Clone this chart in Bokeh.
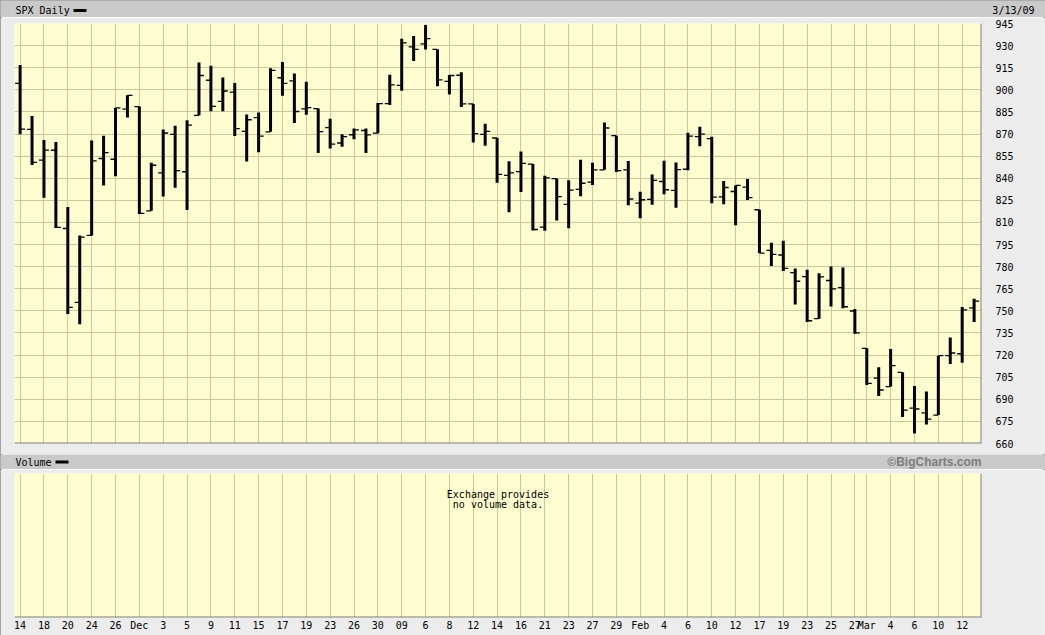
from bokeh.plotting import figure
from bokeh.models import (Range1d, FixedTicker, Label, BoxAnnotation, Span,
                          ColumnDataSource)
from bokeh.layouts import column
from bokeh.embed import file_html
from bokeh.resources import INLINE

# ---------------- data (SPX daily) ----------------
dates = [
    "2008-11-14", "2008-11-17", "2008-11-18", "2008-11-19", "2008-11-20", "2008-11-21",
    "2008-11-24", "2008-11-25", "2008-11-26", "2008-11-28",
    "2008-12-01", "2008-12-02", "2008-12-03", "2008-12-04", "2008-12-05",
    "2008-12-08", "2008-12-09", "2008-12-10", "2008-12-11", "2008-12-12",
    "2008-12-15", "2008-12-16", "2008-12-17", "2008-12-18", "2008-12-19",
    "2008-12-22", "2008-12-23", "2008-12-24", "2008-12-26",
    "2008-12-29", "2008-12-30", "2008-12-31",
    "2009-01-02", "2009-01-05", "2009-01-06", "2009-01-07", "2009-01-08", "2009-01-09",
    "2009-01-12", "2009-01-13", "2009-01-14", "2009-01-15", "2009-01-16",
    "2009-01-20", "2009-01-21", "2009-01-22", "2009-01-23",
    "2009-01-26", "2009-01-27", "2009-01-28", "2009-01-29", "2009-01-30",
    "2009-02-02", "2009-02-03", "2009-02-04", "2009-02-05", "2009-02-06",
    "2009-02-09", "2009-02-10", "2009-02-11", "2009-02-12", "2009-02-13",
    "2009-02-17", "2009-02-18", "2009-02-19", "2009-02-20",
    "2009-02-23", "2009-02-24", "2009-02-25", "2009-02-26", "2009-02-27",
    "2009-03-02", "2009-03-03", "2009-03-04", "2009-03-05", "2009-03-06",
    "2009-03-09", "2009-03-10", "2009-03-11", "2009-03-12", "2009-03-13",
]
opens = [
    904.4, 873.2, 852.3, 859.0, 805.9, 755.8, 801.2, 853.4, 852.9, 886.9,
    888.6, 817.9, 843.6, 869.8, 844.4, 882.7, 906.5, 892.2, 898.4, 871.8,
    881.1, 871.5, 908.2, 906.0, 887.0, 887.2, 874.3, 863.9, 869.5, 872.4, 870.6, 890.6,
    903.0, 929.2, 931.2, 927.5, 905.7, 909.9, 890.4, 869.8, 867.3, 842.0, 844.5,
    849.6, 806.8, 839.7, 822.2, 832.5, 837.3, 845.7, 868.9, 845.7,
    823.1, 825.7, 837.8, 831.8, 846.1, 868.2, 866.9, 827.4, 831.0, 834.0,
    818.6, 791.1, 787.9, 775.9, 773.3, 744.7, 770.6, 765.8, 749.9,
    724.6, 704.4, 698.6, 708.3, 684.0, 680.8, 679.3, 719.6, 720.9, 752.0,
]
highs = [
    916.9, 882.3, 865.9, 864.6, 820.5, 801.2, 865.6, 868.9, 887.7, 896.3,
    888.6, 850.5, 873.1, 875.6, 879.4, 918.6, 916.3, 908.3, 904.6, 883.2,
    884.6, 914.7, 918.9, 911.0, 905.5, 887.4, 880.4, 869.8, 873.7, 873.7, 891.1, 910.3,
    934.7, 936.6, 943.9, 927.5, 910.0, 911.9, 890.4, 877.0, 867.3, 851.6, 858.1,
    849.6, 841.7, 839.7, 838.6, 852.5, 850.5, 877.9, 868.9, 851.7,
    830.8, 842.6, 851.9, 850.6, 870.8, 875.0, 868.1, 838.2, 835.1, 839.4,
    818.6, 796.2, 797.6, 778.7, 777.9, 775.5, 780.1, 779.4, 751.3,
    724.6, 711.7, 724.1, 708.3, 699.1, 695.3, 719.6, 731.9, 752.6, 758.3,
]
lows = [
    869.9, 849.0, 826.8, 806.2, 747.8, 741.0, 801.2, 835.0, 841.4, 881.2,
    815.7, 817.9, 827.6, 833.6, 818.4, 882.7, 885.4, 885.5, 868.7, 851.4,
    857.7, 871.5, 895.9, 877.4, 883.0, 857.1, 860.1, 861.4, 866.5, 857.1, 870.6, 889.7,
    899.4, 919.5, 927.3, 902.4, 896.8, 888.3, 864.3, 862.0, 836.9, 817.0, 830.7,
    804.5, 804.3, 811.3, 806.1, 827.7, 835.4, 845.7, 844.2, 821.7,
    812.9, 822.0, 829.2, 819.9, 845.4, 861.7, 823.0, 822.3, 808.1, 825.2,
    789.2, 780.4, 777.0, 754.3, 742.4, 744.7, 752.9, 751.8, 734.5,
    699.7, 692.3, 698.6, 677.9, 666.8, 672.9, 679.3, 713.9, 714.8, 742.5,
]
closes = [
    873.3, 850.8, 859.1, 806.6, 752.4, 800.0, 851.8, 857.4, 887.7, 896.2,
    816.2, 848.8, 870.7, 845.2, 876.1, 909.7, 888.7, 899.2, 873.6, 879.7,
    868.6, 913.2, 904.4, 885.3, 887.9, 871.6, 863.2, 868.2, 872.8, 869.4, 890.6, 903.3,
    931.8, 927.5, 934.7, 906.7, 909.7, 890.4, 870.3, 871.8, 842.6, 843.7, 850.1,
    805.2, 840.2, 827.5, 832.0, 836.6, 845.7, 874.1, 845.1, 825.9,
    825.4, 838.5, 832.2, 845.9, 868.6, 869.9, 827.2, 833.7, 835.2, 826.8,
    789.2, 788.4, 778.9, 770.1, 743.3, 773.1, 764.9, 752.8, 735.1,
    700.8, 696.3, 712.9, 682.6, 683.4, 676.5, 719.6, 721.4, 750.7, 756.6,
]

# x-axis labels (date -> text)
tick_dates = [
    "2008-11-14", "2008-11-18", "2008-11-20", "2008-11-24", "2008-11-26",
    "2008-12-01", "2008-12-03", "2008-12-05", "2008-12-09", "2008-12-11",
    "2008-12-15", "2008-12-17", "2008-12-19", "2008-12-23", "2008-12-26",
    "2008-12-30", "2009-01-02", "2009-01-06", "2009-01-08", "2009-01-12",
    "2009-01-14", "2009-01-16", "2009-01-21", "2009-01-23", "2009-01-27",
    "2009-01-29", "2009-02-02", "2009-02-04", "2009-02-06", "2009-02-10",
    "2009-02-12", "2009-02-17", "2009-02-19", "2009-02-23", "2009-02-25",
    "2009-02-27", "2009-03-02", "2009-03-04", "2009-03-06", "2009-03-10",
    "2009-03-12",
]
tick_texts = [
    "14", "18", "20", "24", "26", "Dec", "3", "5", "9", "11",
    "15", "17", "19", "23", "26", "30", "09", "6", "8", "12",
    "14", "16", "21", "23", "27", "29", "Feb", "4", "6", "10",
    "12", "17", "19", "23", "25", "27", "Mar", "4", "6", "10",
    "12",
]
price_ticks = [660, 675, 690, 705, 720, 735, 750, 765, 780, 795, 810, 825,
               840, 855, 870, 885, 900, 915, 930, 945]

title_text = "SPX Daily"
date_text = "3/13/09"
volume_title = "Volume"
credit_text = "\u00a9BigCharts.com"
no_volume_lines = ["Exchange provides", "no volume data."]

# ---------------- styling ----------------
W = 1045
FL, FR = 14, 981          # frame left/right edge in page pixels
BG = "#ececec"
BAND = "#c9c9c9"
FRAME = "#fdfdd0"
GRID = "#c9c99b"
EDGE = "#7c7c7c"
MONO = "DejaVu Sans Mono"

idx = list(range(len(dates)))
tick_idx = [dates.index(d) for d in tick_dates]
overrides = {i: t for i, t in zip(tick_idx, tick_texts)}

src = ColumnDataSource(dict(
    x=idx,
    xl=[i - 0.42 for i in idx],
    xr=[i + 0.42 for i in idx],
    open=opens, high=highs, low=lows, close=closes,
))

xr = Range1d(-0.47, 80.62)
yr = Range1d(price_ticks[0], price_ticks[-1])


def band(height, mid, left_text, swatch_left, right_text, right_x, right_font,
         right_style, right_color, right_size):
    # header strip whose frame covers the whole strip (x range in page pixels)
    h = figure(width=W, height=height, x_range=Range1d(0, W), y_range=Range1d(0, height),
               x_axis_location=None, y_axis_location=None, toolbar_location=None,
               output_backend="svg", title=None, min_border=0,
               background_fill_color=BAND, border_fill_color=BAND)
    if "frame_align" in h.properties():
        h.frame_align = False
    h.outline_line_color = None
    h.grid.visible = False
    h.add_layout(Label(x=15, y=mid, text=left_text, text_align="left",
                       text_baseline="middle", text_font=MONO, text_font_size="10px",
                       text_color="black"))
    h.add_layout(BoxAnnotation(left=swatch_left, right=swatch_left + 13,
                               bottom=mid - 1.5, top=mid + 1.5,
                               fill_color="black", fill_alpha=1.0, line_color=None))
    h.add_layout(Label(x=right_x, y=mid, text=right_text, text_align="right",
                       text_baseline="middle", text_font=right_font,
                       text_font_style=right_style, text_font_size=right_size,
                       text_color=right_color))
    return h


head1 = band(17, 7, title_text, 73, date_text, 1034, MONO, "normal", "black", "10px")

# ---------------- price panel ----------------
p = figure(width=W, height=437, x_range=xr, y_range=yr,
           x_axis_location=None, y_axis_location="right",
           toolbar_location=None, output_backend="svg", title=None,
           min_border_left=FL, min_border_right=W - FR, min_border_top=6,
           min_border_bottom=11,
           background_fill_color=FRAME, border_fill_color=BG)
p.outline_line_color = None
p.yaxis.ticker = FixedTicker(ticks=price_ticks)
p.yaxis.major_tick_out = 0
p.yaxis.major_tick_in = 0
p.yaxis.minor_tick_out = 0
p.yaxis.minor_tick_in = 0
p.yaxis.axis_line_color = None
p.yaxis.major_label_standoff = 14
p.yaxis.major_label_text_font = MONO
p.yaxis.major_label_text_font_size = "10px"
p.yaxis.major_label_text_color = "black"
p.xgrid.ticker = FixedTicker(ticks=tick_idx)
p.ygrid.ticker = FixedTicker(ticks=price_ticks)
p.grid.grid_line_color = GRID
p.grid.grid_line_width = 1

p.segment(x0="x", y0="low", x1="x", y1="high", source=src,
          line_color="black", line_width=3)
p.segment(x0="xl", y0="open", x1="x", y1="open", source=src,
          line_color="black", line_width=1.3)
p.segment(x0="x", y0="close", x1="xr", y1="close", source=src,
          line_color="black", line_width=1.3)

p.add_layout(Span(location=yr.start, dimension="width", line_color=EDGE, line_width=2))
p.add_layout(Span(location=xr.end, dimension="height", line_color=EDGE, line_width=2))

head2 = band(15, 7.5, volume_title, 55, credit_text, 981, "Liberation Sans", "bold",
             "#7d7d7d", "12px")

# ---------------- volume panel ----------------
v = figure(width=W, height=166, x_range=xr, y_range=Range1d(0, 1),
           y_axis_location=None, x_axis_location="below",
           toolbar_location=None, output_backend="svg", title=None,
           min_border_left=FL, min_border_right=W - FR, min_border_top=4,
           min_border_bottom=18,
           background_fill_color=FRAME, border_fill_color=BG)
v.outline_line_color = None
v.xaxis.ticker = FixedTicker(ticks=tick_idx)
v.xaxis.major_label_overrides = overrides
v.xaxis.major_tick_out = 0
v.xaxis.major_tick_in = 0
v.xaxis.minor_tick_out = 0
v.xaxis.minor_tick_in = 0
v.xaxis.axis_line_color = None
v.xaxis.major_label_standoff = 2
v.xaxis.major_label_text_font = MONO
v.xaxis.major_label_text_font_size = "10px"
v.xaxis.major_label_text_color = "black"
v.xgrid.ticker = FixedTicker(ticks=tick_idx)
v.xgrid.grid_line_color = GRID
v.ygrid.visible = False

xmid = (xr.start + xr.end) / 2.0
for k, line in enumerate(no_volume_lines):
    v.add_layout(Label(x=xmid, y=0.854 - 0.069 * k, text=line, text_align="center",
                       text_baseline="middle", text_font=MONO, text_font_size="10px",
                       text_color="black"))
v.add_layout(Span(location=0, dimension="width", line_color=EDGE, line_width=2))
v.add_layout(Span(location=xr.end, dimension="height", line_color=EDGE, line_width=2))

layout = column(head1, p, head2, v, spacing=0,
                styles={"outline": "2px solid #8f8f8f", "outline-offset": "-2px"})
open("out.html", "w").write(file_html(layout, INLINE))
